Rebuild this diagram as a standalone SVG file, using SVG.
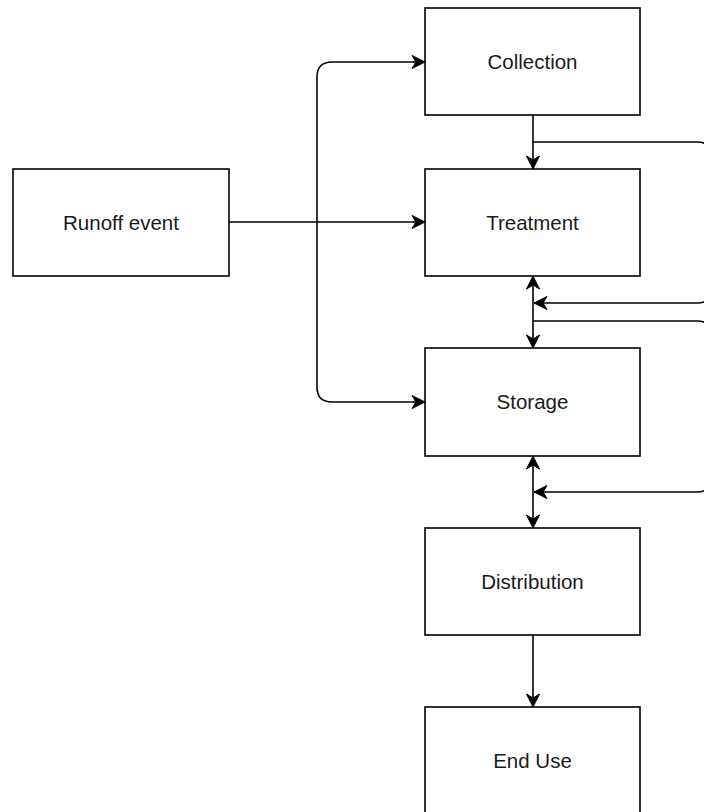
<svg xmlns="http://www.w3.org/2000/svg" width="704" height="812" viewBox="0 0 704 812">
  <style>
    .box { fill: #ffffff; stroke: #000000; stroke-width: 1.6; }
    .label { font-family: "Liberation Sans", Arial, Helvetica, sans-serif; font-size: 20.5px; fill: #1a1a1a; text-anchor: middle; }
    .edge { fill: none; stroke: #000000; stroke-width: 1.6; }
  </style>
  <defs>
    <marker id="arrow" viewBox="-14 -8 16 16" refX="0" refY="0" markerWidth="16" markerHeight="16" markerUnits="userSpaceOnUse" orient="auto-start-reverse">
      <path d="M0,0 L-13,-6.5 L-9,0 L-13,6.5 Z" fill="#000000" stroke="#000000" stroke-width="1" stroke-linejoin="miter"/>
    </marker>
  </defs>
  <rect width="704" height="812" fill="#ffffff"/>

  <g id="connectors">
    <!-- runoff event to treatment -->
    <path class="edge" d="M229,222 L425,222" marker-end="url(#arrow)"/>
    <!-- branch up to collection -->
    <path class="edge" d="M317,222 L317,77 Q317,62 332,62 L425,62" marker-end="url(#arrow)"/>
    <!-- branch down to storage -->
    <path class="edge" d="M317,222 L317,387 Q317,402 332,402 L425,402" marker-end="url(#arrow)"/>
    <!-- collection to treatment -->
    <path class="edge" d="M533,115 L533,169" marker-end="url(#arrow)"/>
    <!-- treatment <-> storage -->
    <path class="edge" d="M533,276 L533,348" marker-start="url(#arrow)" marker-end="url(#arrow)"/>
    <!-- storage <-> distribution -->
    <path class="edge" d="M533,456 L533,528" marker-start="url(#arrow)" marker-end="url(#arrow)"/>
    <!-- distribution to end use -->
    <path class="edge" d="M533,635 L533,707" marker-end="url(#arrow)"/>
    <!-- return loop: collection outflow back into treatment/storage link -->
    <path class="edge" d="M533,142 L697,142 Q712,142 712,157 L712,288 Q712,303 697,303 L534,303" marker-end="url(#arrow)"/>
    <!-- return loop: treatment/storage link back into storage/distribution link -->
    <path class="edge" d="M533,321 L697,321 Q712,321 712,336 L712,477 Q712,492 697,492 L534,492" marker-end="url(#arrow)"/>
  </g>

  <g id="runoff-event">
    <rect class="box" x="13" y="169" width="216" height="107"/>
    <text class="label" x="121" y="229.5">Runoff event</text>
  </g>
  <g id="collection">
    <rect class="box" x="425" y="8" width="215" height="107"/>
    <text class="label" x="532.5" y="69">Collection</text>
  </g>
  <g id="treatment">
    <rect class="box" x="425" y="169" width="215" height="107"/>
    <text class="label" x="532.5" y="229.5">Treatment</text>
  </g>
  <g id="storage">
    <rect class="box" x="425" y="348" width="215" height="108"/>
    <text class="label" x="532.5" y="409">Storage</text>
  </g>
  <g id="distribution">
    <rect class="box" x="425" y="528" width="215" height="107"/>
    <text class="label" x="532.5" y="589">Distribution</text>
  </g>
  <g id="end-use">
    <rect class="box" x="425" y="707" width="215" height="107"/>
    <text class="label" x="532.5" y="768">End Use</text>
  </g>
</svg>
